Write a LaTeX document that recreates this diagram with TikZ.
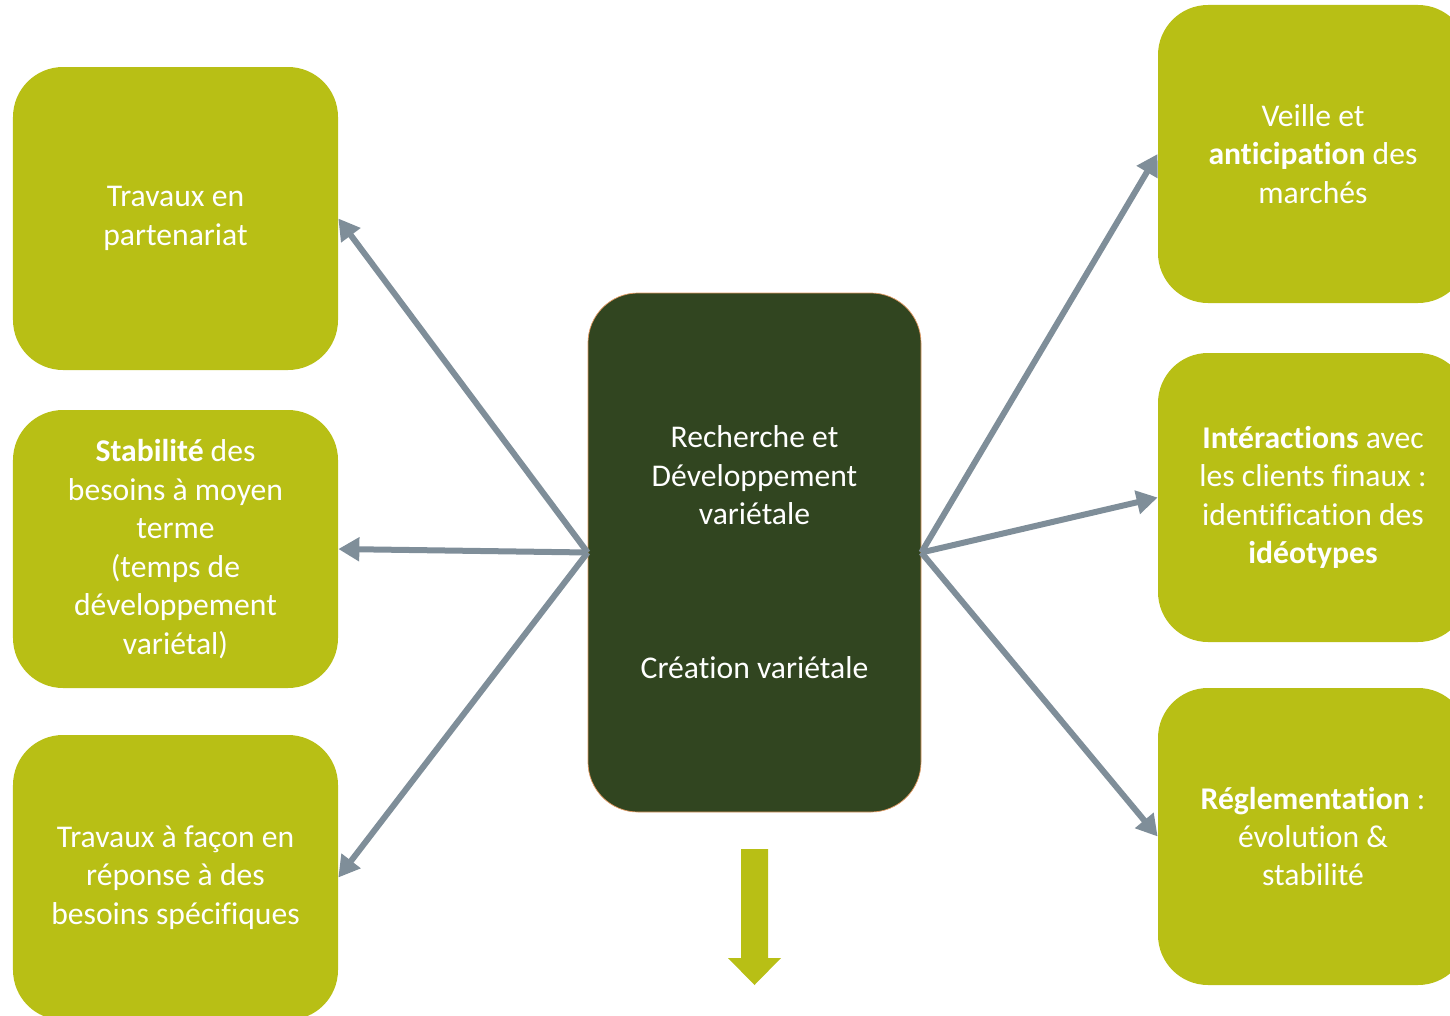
\documentclass[tikz,border=0pt]{standalone}
\usepackage{fontspec}
\setmainfont{Carlito}[RawFeature=-liga]
\usetikzlibrary{arrows.meta}

\definecolor{leaf}{HTML}{B8BF15}
\definecolor{forest}{HTML}{314520}
\definecolor{rim}{HTML}{E39A63}
\definecolor{slate}{HTML}{7F8E99}

\begin{document}
\begin{tikzpicture}[>={Triangle[length=4.2mm,width=4.6mm]},
    font=\fontsize{18}{21.9}\selectfont,
    box/.style={fill=leaf, text=white, rounded corners=1cm, align=center, inner sep=0pt},
    core/.style={fill=forest, draw=rim, line width=0.4pt, text=white, rounded corners=1cm,
      align=center, minimum width=6.66cm, minimum height=10.38cm},
    link/.style={->, draw=slate, line width=1.2mm}]
    \useasboundingbox (0,0) rectangle (29,-20.32);
    \clip (0,0) rectangle (29,-20.32);
    \node (rd) [core] at (15.09,-11.05) {Recherche et\\Développement\\variétale\\~\\~\\~\\Création variétale};
    \node (lt) [box, minimum width=6.5cm, minimum height=6.06cm] at (3.51,-4.37) {Travaux en\\partenariat};
    \node (lm) [box, minimum width=6.5cm, minimum height=5.56cm] at (3.51,-10.98)
      {\textbf{Stabilité} des\\besoins à moyen\\terme\\(temps de\\développement\\variétal)};
    \node (lb) [box, minimum width=6.5cm, minimum height=5.7cm] at (3.51,-17.55)
      {Travaux à façon en\\réponse à des\\besoins spécifiques};
    \node (rt) [box, minimum width=6.2cm, minimum height=5.96cm] at (26.26,-3.08)
      {Veille et\\\textbf{anticipation} des\\marchés};
    \node (rm) [box, minimum width=6.2cm, minimum height=5.78cm] at (26.26,-9.95)
      {\textbf{Intéractions} avec\\les clients finaux :\\identification des\\\textbf{idéotypes}};
    \node (rb) [box, minimum width=6.2cm, minimum height=5.94cm] at (26.26,-16.73)
      {\textbf{Réglementation} :\\évolution \&\\stabilité};
    \path
    (rd.west) edge[link] (lt.east)
    (rd.west) edge[link] (lm.east)
    (rd.west) edge[link] (lb.east)
    (rd.east) edge[link] (rt.west)
    (rd.east) edge[link] (rm.west)
    (rd.east) edge[link] (rb.west)
    ;
    % block arrow below the core box
    \fill[leaf] (14.82,-16.98) -- (15.36,-16.98) -- (15.36,-19.16) -- (15.62,-19.16)
      -- (15.09,-19.7) -- (14.56,-19.16) -- (14.82,-19.16) -- cycle;
\end{tikzpicture}
\end{document}
